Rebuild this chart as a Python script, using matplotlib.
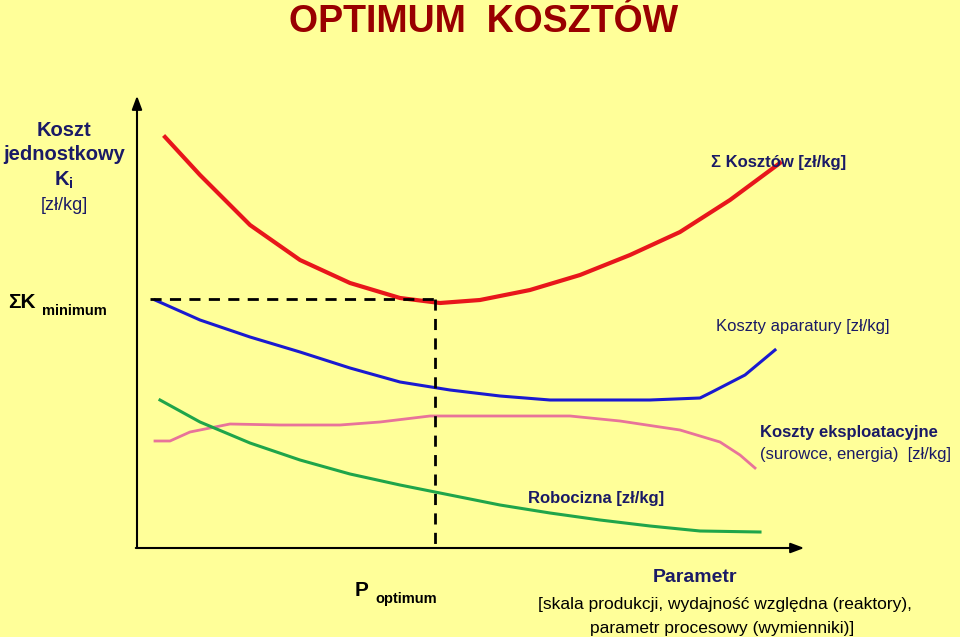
import matplotlib
matplotlib.use("Agg")
import matplotlib.pyplot as plt

# Curve points (in picture coordinates: x right, y down)
sum_x = [165,200,250,300,350,400,440,480,530,580,630,680,730,780]
sum_y = [137,175,225,260,283,298,303,300,290,275,255,232,200,163]
app_x = [155,200,250,300,350,400,450,500,550,600,650,700,712,745,775]
app_y = [300,320,337,352,368,382,390,396,400,400,400,398,392,375,350]
exp_x = [155,170,190,230,280,340,380,430,470,520,570,620,680,720,740,755]
exp_y = [441,441,432,424,425,425,422,416,416,416,416,421,430,442,455,468]
lab_x = [160,200,250,300,350,400,450,500,550,600,650,700,760]
lab_y = [400,422,443,460,474,485,495,505,513,520,526,531,532]

fig = plt.figure(figsize=(9.6,6.37), dpi=100)
fig.patch.set_facecolor("#FFFF99")
ax = fig.add_axes([0,0,1,1])
ax.set_xlim(0,960); ax.set_ylim(637,0); ax.axis("off")
F = "Liberation Sans"
N = "#1a1a66"

ax.plot(sum_x, sum_y, color="#E8161B", lw=3)
ax.plot(app_x, app_y, color="#1A1AD0", lw=2.2)
ax.plot(exp_x, exp_y, color="#E8739A", lw=2)
ax.plot(lab_x, lab_y, color="#1FA54A", lw=2.2)
ax.plot([150,435],[299,299], color="black", lw=2, ls=(0,(4,3)))
ax.plot([435,435],[299,548], color="black", lw=2, ls=(0,(4,3)))
ax.annotate("", xy=(137,93), xytext=(137,550), arrowprops=dict(arrowstyle="-|>,head_width=0.3,head_length=0.8", color="black", lw=1.5))
ax.annotate("", xy=(807,548), xytext=(133,548), arrowprops=dict(arrowstyle="-|>,head_width=0.3,head_length=0.8", color="black", lw=1.5))

ax.text(484,22,"OPTIMUM  KOSZTÓW", color="#990000", fontsize=27, fontweight="bold", ha="center", va="center", family=F)
ax.text(64,130,"Koszt", fontsize=14.5, fontweight="bold", color=N, ha="center", va="center", family=F)
ax.text(64,155,"jednostkowy", fontsize=14.5, fontweight="bold", color=N, ha="center", va="center", family=F)
ax.text(64,180,"K$_\\mathregular{i}$", fontsize=14.5, fontweight="bold", color=N, ha="center", va="center", family=F)
ax.text(64,205,"[zł/kg]", fontsize=13, color=N, ha="center", va="center", family=F)
ax.text(8,302,"ΣK", fontsize=15, fontweight="bold", ha="left", va="center", family=F)
ax.text(42,311,"minimum", fontsize=10.5, fontweight="bold", ha="left", va="center", family=F)
ax.text(846,162,"Σ Kosztów [zł/kg]", fontsize=12, fontweight="bold", color=N, ha="right", va="center", family=F)
ax.text(890,327,"Koszty aparatury [zł/kg]", fontsize=12, color=N, ha="right", va="center", family=F)
ax.text(760,433,"Koszty eksploatacyjne", fontsize=12, fontweight="bold", color=N, ha="left", va="center", family=F)
ax.text(760,455,"(surowce, energia)  [zł/kg]", fontsize=12, color=N, ha="left", va="center", family=F)
ax.text(528,498,"Robocizna [zł/kg]", fontsize=12, fontweight="bold", color=N, ha="left", va="center", family=F)
ax.text(355,591,"P", fontsize=15, fontweight="bold", ha="left", va="center", family=F)
ax.text(375,599,"optimum", fontsize=10.5, fontweight="bold", ha="left", va="center", family=F)
ax.text(695,577,"Parametr", fontsize=14, fontweight="bold", color=N, ha="center", va="center", family=F)
ax.text(725,604,"[skala produkcji, wydajność względna (reaktory),", fontsize=12.5, ha="center", va="center", family=F)
ax.text(722,628,"parametr procesowy (wymienniki)]", fontsize=12.5, ha="center", va="center", family=F)
fig.savefig("out.png", dpi=100, facecolor=fig.get_facecolor())
